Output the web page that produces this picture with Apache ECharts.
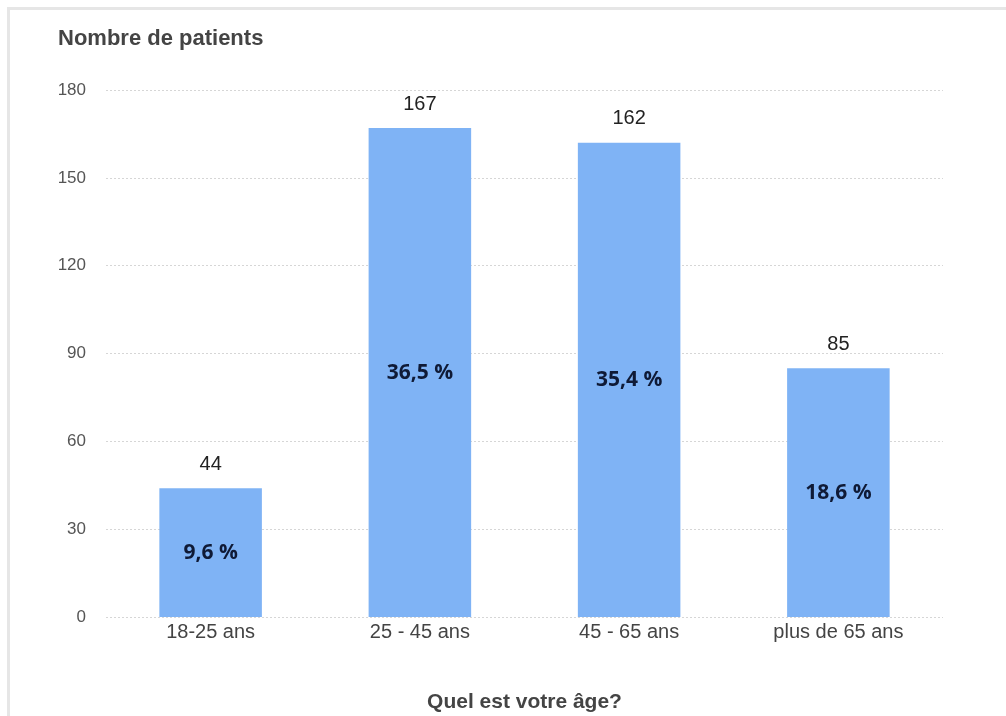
<!DOCTYPE html>
<html>
<head>
<meta charset="utf-8">
<script src="https://cdn.jsdelivr.net/npm/echarts@6/dist/echarts.min.js"></script>
<style>
  html, body { margin: 0; padding: 0; background: #fff; }
  #frame { position: absolute; left: 7px; top: 7px; width: 1010px; height: 720px;
           border-left: 3px solid #e6e6e6; border-top: 3px solid #e6e6e6; }
  #chart { position: absolute; left: 0; top: 0; width: 1006px; height: 716px; }
</style>
</head>
<body>
<div id="frame"></div>
<div id="chart"></div>
<script>
const categories = ['18-25 ans', '25 - 45 ans', '45 - 65 ans', 'plus de 65 ans'];
const patients = [44, 167, 162, 85];
const percentLabels = ['9,6 %', '36,5 %', '35,4 %', '18,6 %'];
const yTicks = { min: 0, max: 180, interval: 30 };
const titleText = 'Nombre de patients';
const xAxisTitle = 'Quel est votre âge?';

const chart = echarts.init(document.getElementById('chart'), null, { renderer: 'canvas' });
const option = {
  animation: false,
  backgroundColor: 'transparent',
  title: {
    text: titleText,
    left: 58, top: 28, padding: 0,
    textStyle: { fontFamily: 'Liberation Sans, Arial, sans-serif', fontSize: 22, fontWeight: 'bold', color: '#444' }
  },
  grid: { left: 106, right: 63, top: 90, bottom: 99, containLabel: false, outerBoundsMode: 'none' },
  xAxis: {
    type: 'category',
    data: categories,
    name: xAxisTitle,
    nameLocation: 'middle',
    nameGap: 75,
    nameTextStyle: { fontFamily: 'Liberation Sans, Arial, sans-serif', fontSize: 21, fontWeight: 'bold', color: '#444' },
    axisLine: { show: false },
    axisTick: { show: false },
    axisLabel: { margin: 5, fontFamily: 'Liberation Sans, Arial, sans-serif', fontSize: 20, color: '#444' }
  },
  yAxis: {
    type: 'value',
    min: yTicks.min, max: yTicks.max, interval: yTicks.interval,
    axisLine: { show: false },
    axisTick: { show: false },
    axisLabel: { margin: 20, fontFamily: 'Liberation Sans, Arial, sans-serif', fontSize: 17, color: '#555' },
    splitLine: { show: true, lineStyle: { color: '#d6d6d6', type: [2, 2], width: 1 } }
  },
  series: [
    {
      type: 'bar',
      data: patients,
      barWidth: '49%',
      itemStyle: { color: '#7fb3f5' },
      label: {
        show: true, position: 'top', distance: 14,
        fontFamily: 'Liberation Sans, Arial, sans-serif', fontSize: 20, color: '#222'
      },
      z: 2
    },
    {
      type: 'bar',
      data: patients,
      barWidth: '49%',
      barGap: '-100%',
      itemStyle: { color: 'transparent' },
      label: {
        show: true, position: 'inside',
        formatter: (p) => percentLabels[p.dataIndex],
        fontFamily: 'Open Sans, sans-serif', fontSize: 21, fontWeight: 'bold', color: '#0f1a36'
      },
      silent: true,
      z: 3
    }
  ]
};
chart.setOption(option);
</script>
</body>
</html>
